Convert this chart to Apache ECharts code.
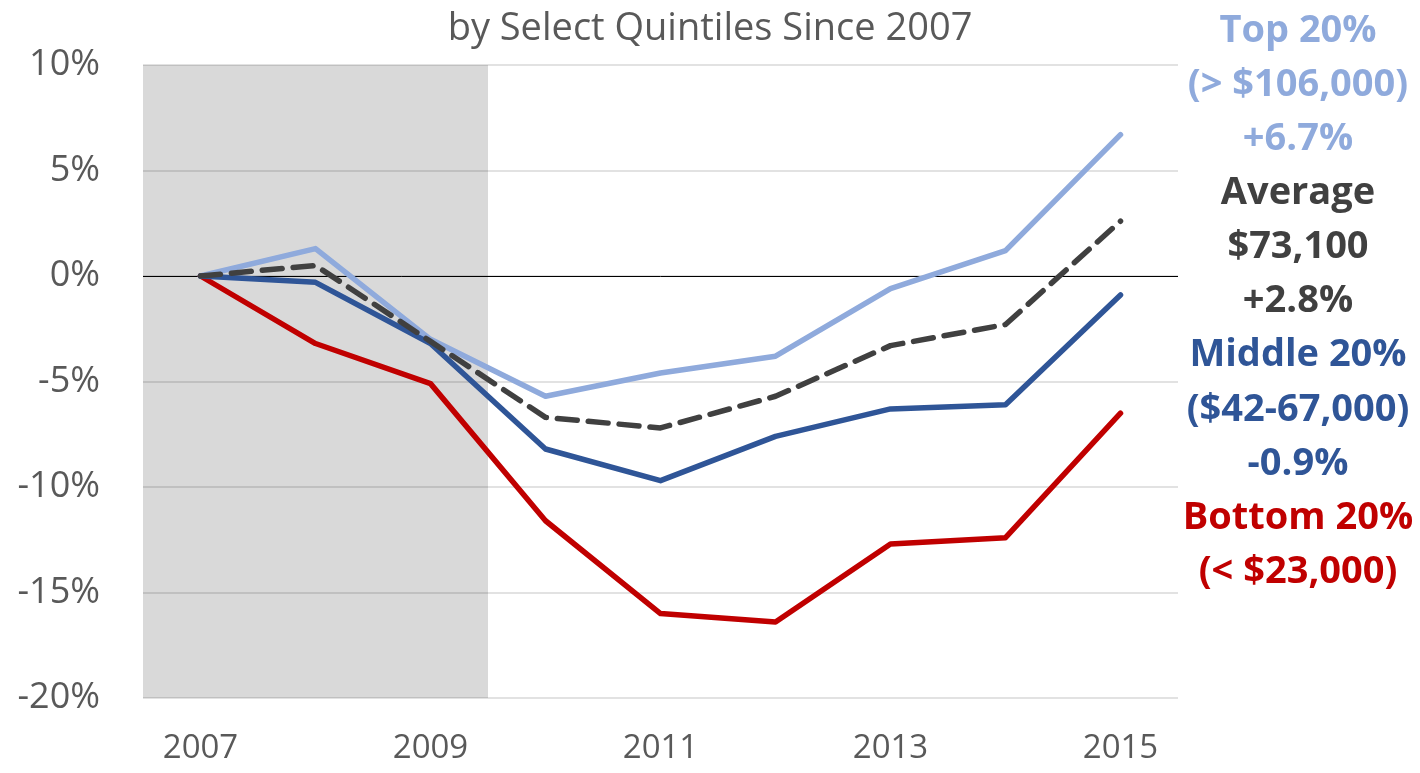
<!DOCTYPE html>
<html>
<head>
<meta charset="utf-8">
<script src="https://cdn.jsdelivr.net/npm/echarts@6/dist/echarts.min.js"></script>
<style>
html, body { margin: 0; padding: 0; background: #fff; }
#chart { width: 1420px; height: 773px; }
</style>
</head>
<body>
<div id="chart"></div>
<script>
var years = ['2007', '2008', '2009', '2010', '2011', '2012', '2013', '2014', '2015'];
var top20 = [0, 1.3, -3.0, -5.7, -4.6, -3.8, -0.6, 1.2, 6.7];
var average = [0, 0.5, -3.1, -6.7, -7.2, -5.7, -3.3, -2.3, 2.6];
var middle20 = [0, -0.3, -3.2, -8.2, -9.7, -7.6, -6.3, -6.1, -0.9];
var bottom20 = [0, -3.2, -5.1, -11.6, -16.0, -16.4, -12.7, -12.4, -6.5];
// recession shading, 2007-2009
var shadeLow = [-20, -20, -20, null, null, null, null, null, null];
var shadeHigh = [10, 10, 10, null, null, null, null, null, null];

var notes = [
    { text: 'Top 20%', color: '#8faadc' },
    { text: '(> $106,000)', color: '#8faadc' },
    { text: '+6.7%', color: '#8faadc' },
    { text: 'Average', color: '#404040' },
    { text: '$73,100', color: '#404040' },
    { text: '+2.8%', color: '#404040' },
    { text: 'Middle 20%', color: '#2f5597' },
    { text: '($42-67,000)', color: '#2f5597' },
    { text: '-0.9%', color: '#2f5597' },
    { text: 'Bottom 20%', color: '#c00000' },
    { text: '(< $23,000)', color: '#c00000' }
];

var myChart = echarts.init(document.getElementById('chart'));
var font = '"Open Sans", sans-serif';

function lineSeries(name, data, color, dashed) {
    return {
        name: name,
        type: 'line',
        data: data,
        symbol: 'none',
        silent: true,
        z: 5,
        lineStyle: {
            color: color,
            width: 5.5,
            type: dashed ? [20, 11] : 'solid',
            cap: 'round',
            join: 'round'
        }
    };
}

// notes on the right, centred on x = 1298
var graphics = notes.map(function (n, i) {
    return {
        type: 'text',
        x: 1298,
        y: 31 + i * 54.1,
        style: {
            text: n.text,
            fill: n.color,
            font: 'bold 38px ' + font,
            textAlign: 'center',
            textVerticalAlign: 'middle'
        }
    };
});

var option = {
    animation: false,
    title: {
        text: 'by Select Quintiles Since 2007',
        left: 'center',
        top: 5,
        textStyle: { color: '#595959', fontFamily: font, fontWeight: 'normal', fontSize: 38 }
    },
    grid: { left: 143, right: 242, top: 65, bottom: 75 },
    xAxis: {
        type: 'category',
        data: years,
        boundaryGap: true,
        axisLine: { show: false },
        axisTick: { show: false },
        axisLabel: { interval: 1, color: '#595959', fontFamily: font, fontSize: 33, margin: 34 },
        splitLine: { show: false }
    },
    yAxis: {
        type: 'value',
        min: -20,
        max: 10,
        interval: 5,
        axisLine: { show: false },
        axisTick: { show: false },
        axisLabel: {
            color: '#595959', fontFamily: font, fontSize: 36, margin: 43,
            formatter: function (v) { return v + '%'; }
        },
        splitLine: { lineStyle: { color: '#d9d9d9', width: 1.5 } }
    },
    graphic: graphics,
    series: [
        {
            type: 'bar', stack: 'shade', data: shadeLow, barWidth: '100%', silent: true, z: 1,
            itemStyle: { color: 'rgba(0,0,0,0.15)' }
        },
        {
            type: 'bar', stack: 'shade', data: shadeHigh, barWidth: '100%', silent: true, z: 1,
            itemStyle: { color: 'rgba(0,0,0,0.15)' }
        },
        lineSeries('Bottom 20%', bottom20, '#c00000', false),
        lineSeries('Top 20%', top20, '#8faadc', false),
        lineSeries('Middle 20%', middle20, '#2f5597', false),
        Object.assign(lineSeries('Average', average, '#404040', true), {
            markLine: {
                silent: true,
                symbol: 'none',
                label: { show: false },
                lineStyle: { color: '#000', width: 1, type: 'solid' },
                data: [{ yAxis: 0 }]
            }
        })
    ]
};
option && myChart.setOption(option);
</script>
</body>
</html>
